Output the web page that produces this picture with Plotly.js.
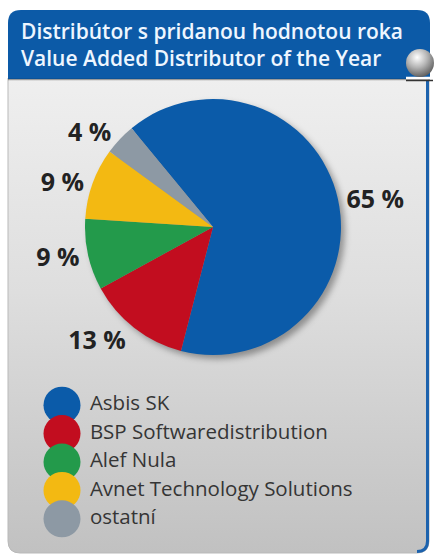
<!DOCTYPE html>
<html>
<head>
<meta charset="utf-8">
<script src="https://cdn.plot.ly/plotly-3.0.1.min.js"></script>
<style>html,body{margin:0;padding:0;background:#fff;}#chart{width:436px;height:555px;}</style>
</head>
<body>
<div id="chart"></div>
<script>
// ---- data ----
const labels = ['Asbis SK', 'BSP Softwaredistribution', 'Alef Nula', 'Avnet Technology Solutions', 'ostatní'];
const shares = [65, 13, 9, 9, 4];
const colors = ['#0b5ba9', '#c20d1f', '#239a4b', '#f3b912', '#8d99a4'];
const titleLines = ['Distribútor s pridanou hodnotou roka', 'Value Added Distributor of the Year'];

const W = 436, H = 555;

// ---- decorative panel (background image) ----
const svg = `<svg xmlns='http://www.w3.org/2000/svg' width='${W}' height='${H}' viewBox='0 0 ${W} ${H}'>
<defs>
<linearGradient id='g' x1='0' y1='0' x2='0' y2='1'>
<stop offset='0' stop-color='#efefef'/><stop offset='0.45' stop-color='#dedede'/><stop offset='1' stop-color='#c1c1c1'/>
</linearGradient>
<radialGradient id='s' cx='0.4' cy='0.3' r='0.8'>
<stop offset='0' stop-color='#ffffff'/><stop offset='0.45' stop-color='#b5b5b5'/><stop offset='1' stop-color='#4a4a4a'/>
</radialGradient>
<filter id='b' x='-20%' y='-20%' width='140%' height='140%'><feGaussianBlur stdDeviation='3'/></filter>
</defs>
<path d='M8,78 H429 V541 Q429,553 417,553 H20 Q8,553 8,541 Z' fill='url(#g)' stroke='#b9b9b9' stroke-width='1'/>
<path d='M427.5,80 V541 Q427.5,551.5 417,551.5' fill='none' stroke='#1c62ad' stroke-width='3'/>
<path d='M8,79 V23 Q8,10 21,10 H417 Q430,10 430,23 V79 Z' fill='#0c5aa7'/>
<line x1='8' y1='79.5' x2='430' y2='79.5' stroke='rgba(0,0,0,0.35)' stroke-width='1.5'/>
<circle cx='217' cy='231' r='128' fill='rgba(0,0,0,0.35)' filter='url(#b)'/>
<line x1='406' y1='78' x2='433' y2='78' stroke='#ffffff' stroke-width='2.5'/>
<line x1='406' y1='80.5' x2='433' y2='80.5' stroke='#333' stroke-width='1.5'/>
<circle cx='420' cy='63' r='14' fill='url(#s)'/>
</svg>`;
const bgSrc = 'data:image/svg+xml;charset=utf-8,' + encodeURIComponent(svg);

const pie = {
  type: 'pie',
  values: shares,
  labels: labels,
  marker: {colors: colors, line: {width: 0}},
  sort: false,
  direction: 'clockwise',
  rotation: -39.5,
  textposition: 'outside',
  texttemplate: '%{value} %',
  textfont: {family: 'Open Sans', size: 25, color: '#222', weight: 700},
  domain: {x: [85 / W, 341 / W], y: [1 - 355 / H, 1 - 99 / H]},
  showlegend: false,
  hoverinfo: 'none'
};

// legend: coloured discs
const legendDots = {
  type: 'scatter',
  mode: 'markers',
  x: labels.map(() => 0),
  y: labels,
  marker: {size: 37, color: colors, line: {width: 0}},
  cliponaxis: false,
  showlegend: false,
  hoverinfo: 'none'
};
// legend: names (invisible larger marker sets the text offset)
const legendText = {
  type: 'scatter',
  mode: 'markers+text',
  x: labels.map(() => 0),
  y: labels,
  text: labels,
  textposition: 'middle right',
  textfont: {family: 'Open Sans', size: 20.5, color: '#353535'},
  marker: {size: 43, color: 'rgba(0,0,0,0)', line: {width: 0}},
  cliponaxis: false,
  showlegend: false,
  hoverinfo: 'none'
};

const layout = {
  width: W, height: H,
  margin: {l: 0, r: 0, t: 0, b: 0},
  paper_bgcolor: '#ffffff',
  plot_bgcolor: 'rgba(0,0,0,0)',
  showlegend: false,
  title: {
    text: titleLines.join('<br>'),
    font: {family: 'Open Sans', size: 21, color: '#eef6ff', weight: 600},
    x: 21 / W, xanchor: 'left', xref: 'container',
    y: 1 - 39 / H, yanchor: 'top', yref: 'container'
  },
  xaxis: {domain: [0, 1], range: [-62, W - 62], visible: false, fixedrange: true},
  yaxis: {domain: [1 - 533 / H, 1 - 391 / H], type: 'category', range: [4.5, -0.5], visible: false, fixedrange: true},
  images: [{source: bgSrc, xref: 'paper', yref: 'paper', x: 0, y: 1, sizex: 1, sizey: 1,
            xanchor: 'left', yanchor: 'top', sizing: 'stretch', layer: 'below'}]
};

Plotly.newPlot('chart', [pie, legendDots, legendText], layout, {displayModeBar: false, staticPlot: true});
</script>
</body>
</html>
